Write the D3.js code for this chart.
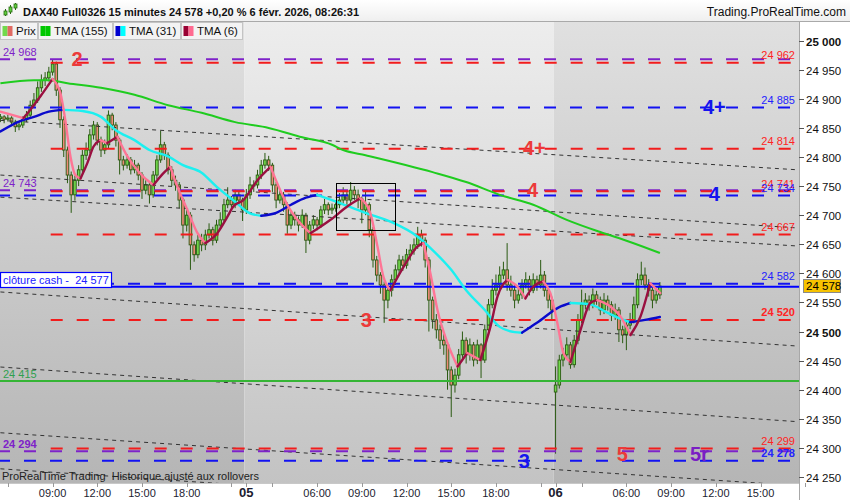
<!DOCTYPE html>
<html><head><meta charset="utf-8">
<script src="https://cdn.jsdelivr.net/npm/d3@7"></script>
<style>
html,body{margin:0;padding:0;background:#fff;}
svg{display:block;font-family:"Liberation Sans",Arial,sans-serif;}
</style>
</head><body>
<svg id="chart" width="850" height="500"></svg>
<script>
// ---------------- DATA ----------------
const titleText = "DAX40 Full0326 15 minutes 24 578 +0,20 % 6 févr. 2026, 08:26:31";
const siteText = "Trading.ProRealTime.com";
const footText = "ProRealTime Trading  Historique ajusté aux rollovers";
const legendNames = ["Prix", "TMA (155)", "TMA (31)", "TMA (6)"];

// sessions (15-minute bars)
const sessionDays = [4, 5, 6];
const sessionStarts = ["05:30", "01:15", "01:15"];
const sessionBarCounts = [66, 83, 29];

const opens = [24866,24869,24865,24867,24860,24852,24855,24864,24872,24889,
24898,24919,24932,24936,24946,24960,24915,24864,24812,24769,
24735,24760,24778,24803,24812,24838,24855,24829,24812,24821,
24872,24855,24829,24795,24786,24795,24778,24786,24769,24743,
24752,24735,24769,24795,24821,24803,24778,24760,24752,24726,
24683,24700,24649,24632,24657,24649,24666,24675,24657,24683,
24692,24718,24726,24718,24735,24726,
24709,24735,24752,24752,24769,24786,24795,24786,24752,24726,
24735,24718,24683,24700,24692,24683,24700,24657,24683,24692,
24683,24709,24718,24709,24712,24718,24726,24735,24726,24743,
24735,24726,24709,24718,24675,24623,24597,24580,24554,24571,
24589,24606,24623,24614,24632,24640,24649,24666,24657,24623,
24554,24520,24503,24485,24477,24434,24408,24425,24460,24485,
24460,24477,24451,24477,24451,24503,24546,24571,24580,24597,
24606,24580,24571,24554,24563,24580,24589,24571,24589,24580,
24597,24571,24554,
24396,24408,24451,24460,24477,24443,24485,24520,24546,24554,
24546,24563,24554,24537,24554,24546,24528,24537,24503,24494,
24511,24520,24546,24589,24597,24580,24571,24554,24563];

const highs = [24874,24872,24873,24870,24864,24861,24870,24879,24897,24910,
24930,24942,24946,24955,24968,24964,24920,24870,24818,24775,
24768,24786,24812,24825,24848,24862,24860,24835,24830,24880,
24876,24860,24833,24802,24805,24800,24795,24790,24774,24760,
24757,24776,24803,24845,24826,24808,24784,24768,24757,24730,
24710,24705,24655,24666,24668,24675,24686,24680,24692,24705,
24728,24748,24733,24744,24740,24730,
24745,24766,24760,24778,24795,24807,24802,24790,24757,24744,
24740,24722,24708,24706,24698,24710,24704,24690,24700,24697,
24716,24728,24722,24720,24726,24738,24748,24742,24757,24750,
24744,24732,24740,24722,24680,24630,24602,24586,24580,24598,
24615,24632,24630,24642,24650,24660,24680,24675,24662,24628,
24560,24530,24512,24496,24482,24440,24436,24470,24500,24490,
24488,24482,24486,24480,24512,24556,24590,24598,24612,24620,
24652,24596,24580,24576,24590,24602,24596,24600,24596,24623,
24604,24578,24560,
24440,24460,24472,24490,24482,24494,24530,24572,24566,24562,
24574,24570,24560,24566,24562,24552,24548,24542,24510,24520,
24532,24560,24600,24620,24610,24590,24576,24574,24585];

const lows = [24860,24858,24861,24853,24843,24846,24850,24860,24868,24884,
24893,24912,24922,24930,24940,24905,24850,24800,24755,24704,
24725,24750,24770,24795,24806,24830,24820,24800,24805,24815,
24846,24818,24770,24777,24780,24770,24772,24760,24728,24736,
24720,24730,24762,24790,24795,24770,24750,24742,24712,24660,
24672,24606,24620,24626,24638,24640,24660,24648,24652,24676,
24688,24712,24708,24712,24716,24690,
24702,24728,24740,24746,24762,24780,24776,24740,24712,24720,
24706,24668,24676,24682,24672,24678,24635,24650,24676,24674,
24678,24702,24700,24702,24706,24712,24720,24716,24720,24726,
24712,24686,24700,24662,24610,24586,24565,24515,24540,24560,
24580,24598,24604,24608,24622,24632,24642,24646,24610,24500,
24505,24488,24470,24460,24400,24353,24395,24418,24452,24445,
24450,24440,24444,24420,24446,24498,24540,24562,24572,24590,
24570,24560,24540,24548,24556,24574,24562,24566,24570,24574,
24560,24540,24520,
24290,24402,24440,24452,24436,24438,24478,24514,24538,24536,
24540,24546,24528,24530,24536,24518,24520,24482,24480,24468,
24504,24514,24540,24580,24572,24560,24540,24548,24556];

const closes = [24869,24865,24867,24860,24852,24855,24864,24872,24889,24898,
24919,24932,24936,24946,24960,24915,24864,24812,24769,24735,
24760,24778,24803,24812,24838,24855,24829,24812,24821,24872,
24855,24829,24795,24786,24795,24778,24786,24769,24743,24752,
24735,24769,24795,24821,24803,24778,24760,24752,24726,24683,
24700,24649,24632,24657,24649,24666,24675,24657,24683,24692,
24718,24726,24718,24735,24726,24709,
24735,24752,24752,24769,24786,24795,24786,24752,24726,24735,
24718,24683,24700,24692,24683,24700,24657,24683,24692,24683,
24709,24718,24709,24712,24718,24726,24735,24726,24743,24735,
24726,24709,24718,24675,24623,24597,24580,24554,24571,24589,
24606,24623,24614,24632,24640,24649,24666,24657,24623,24554,
24520,24503,24485,24477,24434,24408,24425,24460,24485,24460,
24477,24451,24477,24451,24503,24546,24571,24580,24597,24606,
24580,24571,24554,24563,24580,24589,24571,24589,24580,24597,
24571,24554,24537,
24408,24451,24460,24477,24443,24485,24520,24546,24554,24546,
24563,24554,24537,24554,24546,24528,24537,24503,24494,24511,
24520,24546,24589,24597,24580,24571,24554,24563,24578];

// indicator samples (bar index, value)
const tma155Bars = [0,9,13,18,27,36,45,54,63,72,81,89,92,98,116,125,134,143,152,161,169,177];
const tma155Values = [24927,24932,24932,24927,24919,24907,24889,24876,24860,24850,24834,24821,24812,24803,24774,24757,24735,24718,24692,24671,24654,24635];

const tma31Bars = [0,5,9,13,17,22,27,31,36,40,45,49,54,58,63,67,70,74,78,82,85,89,98,105,112,116,121,125,130,134,138,140,144,150,153,158,163,166,169,173,177];
const tma31Values = [24844,24861,24869,24878,24881,24879,24869,24846,24829,24812,24801,24786,24773,24749,24723,24703,24699,24704,24718,24730,24735,24726,24704,24688,24663,24640,24606,24571,24537,24508,24499,24498,24515,24542,24549,24547,24532,24523,24516,24520,24525];

const tma6Bars = [0,6.2,8,10.7,14,16.1,17.4,18.8,20.1,21.5,23.3,25,26.8,28.7,31.4,34.1,35.7,38.4,41.1,43.7,45.6,47.5,50.2,52.9,55,58.2,60.9,62.5,65.2,69,72.5,75.1,77.8,80.5,83.2,85.9,88.6,93.1,96.6,99.3,101.2,102.8,104.7,108.2,111.9,113.5,115.4,117.3,120,122.7,125.3,128.8,131.5,133.4,136.1,138.8,140.9,143,145.7,147.6,149.5,151.1,153,155.7,158.3,160.2,163.7,166.4,169.1,171.8,174.4,177.1];
const tma6Values = [24878,24867,24881,24904,24934,24910,24864,24801,24769,24763,24789,24818,24829,24824,24835,24801,24786,24766,24752,24772,24783,24749,24709,24669,24652,24669,24697,24715,24726,24760,24783,24743,24709,24686,24669,24680,24692,24715,24729,24703,24646,24594,24571,24611,24646,24652,24600,24537,24480,24440,24463,24451,24508,24560,24589,24577,24557,24577,24586,24566,24514,24463,24448,24503,24549,24554,24543,24526,24494,24526,24583,24566];

// horizontal levels
const purpleLevels = [24968, 24743, 24294];
const blueLevels = [24885, 24734, 24582, 24278];
const redLevels = [24962, 24814, 24741, 24667, 24520, 24299];
const cashClose = 24577;
const greenLevel = 24415;
const lastPrice = 24578;
const cashLabel = "clôture cash -  ";

// dotted trend lines: start/end (bar, price)
const trendStartBars = [0,0,0,0,0,0,0];
const trendStartPrices = [24863,24769,24731,24568,24439,24326,24264];
const trendEndBars = [214,214,214,214,214,214,214];
const trendEndPrices = [24778,24678,24647,24475,24345,24235,24172];

// annotations
const annoTexts = ["2","4+","4+","4","4","3","3","5","5r"];
const annoBars = [20.6,191.6,143.3,142.8,191.6,98.2,140.6,166.9,187.6];
const annoPrices = [24969,24886,24815,24743,24737,24520,24277,24289,24289];
const annoKinds = ["red","blue","red","red","blue","red","blue","red","purple"];

// highlighted box (bar range, price range)
const boxBars = [90, 105.8];
const boxPrices = [24756, 24675];

// axes
const yTickValues = [24250,24300,24350,24400,24450,24500,24550,24600,24650,24700,24750,24800,24850,24900,24950,25000];
const xTickLabels = ["09:00","12:00","15:00","18:00","05","06:00","09:00","12:00","15:00","18:00","06","06:00","09:00","12:00","15:00"];
const xTickDays = [4,4,4,4,5,5,5,5,5,5,6,6,6,6,6];
const xTickTimes = ["09:00","12:00","15:00","18:00","01:15","06:00","09:00","12:00","15:00","18:00","01:15","06:00","09:00","12:00","15:00"];
const minorTickDays = [4,4,5,5,6,6];
const minorTickTimes = ["06:00","21:00","03:00","21:00","03:00","18:00"];

// ---------------- LAYOUT / STYLE ----------------
const W = 850, H = 500;
const plotL = 0, plotR = 799, plotT = 22, plotB = 483;
const COL = {
  purple: "#7e22c9", blue: "#1212f2", red: "#f21c1c",
  redText: "#ff2424", blueText: "#2323ff",
  annRed: "#ec3a3a", annBlue: "#1414ee", annPurple: "#7a1ec4",
  green: "#35b535", tma155: "#1fcc1f",
  tma31Up: "#0a0acc", tma31Down: "#1cf0f0",
  tma6Up: "#9a1040", tma6Down: "#ff7595",
  upFill: "#72d94c", downFill: "#ee8a78", candleLine: "#2a5a12"
};
const boldLabels = new Set([24520, 24278, 24294]);

const fr = d3.formatLocale({decimal: ",", thousands: " ", grouping: [3], currency: ["", ""]});
const fmt = fr.format(",d");

const x = d3.scaleLinear().domain([0, 214]).range([0.4, 0.4 + 214 * 3.726]);
const y = d3.scaleLinear().domain([24239.6, 25032.1]).range([plotB, plotT]);

function toMin(t) { const p = t.split(":"); return +p[0] * 60 + +p[1]; }
const sessionStartIndex = {};
{ let acc = 0; sessionDays.forEach((d, k) => { sessionStartIndex[d] = acc; acc += sessionBarCounts[k]; }); }
function barIndex(day, time) {
  const k = sessionDays.indexOf(day);
  return sessionStartIndex[day] + (toMin(time) - toMin(sessionStarts[k])) / 15;
}

const svg = d3.select("#chart");
const defs = svg.append("defs");
function grad(id, c0, c1) {
  const g = defs.append("linearGradient").attr("id", id).attr("x1", 0).attr("y1", 0).attr("x2", 0).attr("y2", 1);
  g.append("stop").attr("offset", "0%").attr("stop-color", c0);
  g.append("stop").attr("offset", "100%").attr("stop-color", c1);
}
grad("gDark", "#e0e0e0", "#b5b5b5");
grad("gLight", "#ededed", "#c3c3c3");
grad("gHead", "#ffffff", "#efefef");
defs.append("clipPath").attr("id", "clip").append("rect")
  .attr("x", plotL).attr("y", plotT).attr("width", plotR - plotL).attr("height", plotB - plotT);

svg.append("rect").attr("width", W).attr("height", H).attr("fill", "#fff");

// plot background: day shading
const plot = svg.append("g").attr("clip-path", "url(#clip)");
const dayEdges = [0, sessionStartIndex[5] - 0.5, sessionStartIndex[6] - 0.5, 214];
const dayFills = ["url(#gDark)", "url(#gLight)", "url(#gDark)"];
dayFills.forEach((f, k) => {
  const x0 = k === 0 ? plotL : x(dayEdges[k]);
  const x1 = k === 2 ? plotR : x(dayEdges[k + 1]);
  plot.append("rect").attr("x", x0).attr("y", plotT).attr("width", x1 - x0).attr("height", plotB - plotT).attr("fill", f);
});

// candles
const bars = closes.map((c, i) => ({i, o: opens[i], h: highs[i], l: lows[i], c}));
const cg = plot.append("g");
cg.selectAll("line.wick").data(bars).join("line")
  .attr("x1", d => x(d.i)).attr("x2", d => x(d.i))
  .attr("y1", d => y(d.h)).attr("y2", d => y(d.l))
  .attr("stroke", COL.candleLine).attr("stroke-width", 1);
cg.selectAll("rect.body").data(bars).join("rect")
  .attr("x", d => x(d.i) - 1.3).attr("width", 2.6)
  .attr("y", d => y(Math.max(d.o, d.c)))
  .attr("height", d => Math.max(1, Math.abs(y(d.o) - y(d.c))))
  .attr("fill", d => d.c >= d.o ? COL.upFill : COL.downFill)
  .attr("stroke", COL.candleLine).attr("stroke-width", 0.9);

// dotted trend lines
trendStartBars.forEach((b, k) => {
  plot.append("line")
    .attr("x1", x(b)).attr("y1", y(trendStartPrices[k]))
    .attr("x2", x(trendEndBars[k])).attr("y2", y(trendEndPrices[k]))
    .attr("stroke", "#333").attr("stroke-width", 1).attr("stroke-dasharray", "4,4");
});

// horizontal dashed levels
function dashed(v, color, x0, off) {
  plot.append("line").attr("x1", x0).attr("x2", plotR)
    .attr("y1", y(v)).attr("y2", y(v))
    .attr("stroke", color).attr("stroke-width", 2)
    .attr("stroke-dasharray", "12,14").attr("stroke-dashoffset", off);
}
purpleLevels.forEach(v => dashed(v, COL.purple, 0, 2));
blueLevels.forEach(v => dashed(v, COL.blue, 0, 2));
redLevels.forEach(v => dashed(v, COL.red, x(13.5), 0));
// solid lines
plot.append("line").attr("x1", plotL).attr("x2", plotR).attr("y1", y(greenLevel)).attr("y2", y(greenLevel))
  .attr("stroke", COL.green).attr("stroke-width", 2);
plot.append("line").attr("x1", plotL).attr("x2", plotR).attr("y1", y(cashClose)).attr("y2", y(cashClose))
  .attr("stroke", "#0000ff").attr("stroke-width", 2);

// indicators
const lineGen = d3.line().x(d => x(d[0])).y(d => y(d[1])).curve(d3.curveMonotoneX);
function colored(barsArr, vals, up, down, w) {
  let run = [[barsArr[0], vals[0]]], dir = vals[1] >= vals[0];
  for (let k = 1; k < barsArr.length; k++) {
    const d = vals[k] >= vals[k - 1];
    if (k > 1 && d !== dir) {
      plot.append("path").attr("d", lineGen(run)).attr("fill", "none")
        .attr("stroke", dir ? up : down).attr("stroke-width", w).attr("stroke-linecap", "round");
      run = [run[run.length - 1]];
      dir = d;
    }
    run.push([barsArr[k], vals[k]]);
  }
  plot.append("path").attr("d", lineGen(run)).attr("fill", "none")
    .attr("stroke", dir ? up : down).attr("stroke-width", w).attr("stroke-linecap", "round");
}
plot.append("path").attr("d", lineGen(tma155Bars.map((b, k) => [b, tma155Values[k]])))
  .attr("fill", "none").attr("stroke", COL.tma155).attr("stroke-width", 2);
colored(tma31Bars, tma31Values, COL.tma31Up, COL.tma31Down, 2.4);
colored(tma6Bars, tma6Values, COL.tma6Up, COL.tma6Down, 2.4);

// highlight box
plot.append("rect")
  .attr("x", Math.round(x(boxBars[0])) + 0.5).attr("y", Math.round(y(boxPrices[0])) + 0.5)
  .attr("width", Math.round(x(boxBars[1]) - x(boxBars[0])))
  .attr("height", Math.round(y(boxPrices[1]) - y(boxPrices[0])))
  .attr("fill", "none").attr("stroke", "#000").attr("stroke-width", 1);

// right-side level labels
function rightLabel(v, color) {
  svg.append("text").attr("x", 795).attr("y", y(v) - 3.5).attr("text-anchor", "end")
    .attr("font-size", 11).attr("font-weight", boldLabels.has(v) ? "bold" : "normal")
    .attr("fill", color).text(fmt(v));
}
redLevels.forEach(v => rightLabel(v, COL.redText));
blueLevels.forEach(v => rightLabel(v, COL.blueText));
// left labels
function leftLabel(v, color) {
  svg.append("text").attr("x", 3).attr("y", y(v) - 3).attr("font-size", 11)
    .attr("font-weight", boldLabels.has(v) ? "bold" : "normal").attr("fill", color).text(fmt(v));
}
purpleLevels.forEach(v => leftLabel(v, COL.purple));
leftLabel(greenLevel, "#2f9f4f");

// cash box
{
  const yy = y(cashClose);
  svg.append("rect").attr("x", 0.5).attr("y", Math.round(yy) - 14.5).attr("width", 111).attr("height", 15)
    .attr("fill", "#fff").attr("stroke", "#0000ff").attr("stroke-width", 1.2);
  svg.append("text").attr("x", 3).attr("y", Math.round(yy) - 3).attr("font-size", 11)
    .attr("fill", "#2020ff").attr("xml:space", "preserve").style("white-space", "pre")
    .text(cashLabel + fmt(cashClose));
}

// annotations
const annoColor = {red: COL.annRed, blue: COL.annBlue, purple: COL.annPurple};
annoTexts.forEach((t, k) => {
  svg.append("text").attr("x", x(annoBars[k])).attr("y", y(annoPrices[k])).attr("dy", "0.36em")
    .attr("text-anchor", "middle").attr("font-size", 20).attr("font-weight", "bold")
    .attr("fill", annoColor[annoKinds[k]]).text(t);
});

// footer text on plot
svg.append("text").attr("x", 2).attr("y", 480).attr("font-size", 11).attr("fill", "#222")
  .attr("xml:space", "preserve").style("white-space", "pre").text(footText);

// ---------------- AXES ----------------
svg.append("line").attr("x1", plotR + 0.5).attr("x2", plotR + 0.5).attr("y1", plotT).attr("y2", H)
  .attr("stroke", "#a8a8a8");
svg.append("line").attr("x1", 0).attr("x2", plotR).attr("y1", plotB + 0.5).attr("y2", plotB + 0.5)
  .attr("stroke", "#c8c8c8");

const yAxis = svg.append("g");
yTickValues.forEach(v => {
  const yy = Math.round(y(v)) + 0.5;
  yAxis.append("line").attr("x1", plotR).attr("x2", plotR + 5).attr("y1", yy).attr("y2", yy).attr("stroke", "#555");
  yAxis.append("text").attr("x", 806).attr("y", yy + 4).attr("font-size", 11.5)
    .attr("font-weight", v % 500 === 0 ? "bold" : "normal").attr("fill", "#111").text(fmt(v));
});
// last price tag
{
  const yy = Math.round(y(lastPrice));
  yAxis.append("rect").attr("x", 803.5).attr("y", yy - 6.5).attr("width", 37).attr("height", 13)
    .attr("fill", "#f6c200").attr("stroke", "#8a8a8a");
  yAxis.append("text").attr("x", 806).attr("y", yy + 4).attr("font-size", 11.5).attr("fill", "#000").text(fmt(lastPrice));
}

const xAxis = svg.append("g");
minorTickDays.forEach((d, k) => {
  const xx = Math.round(x(barIndex(d, minorTickTimes[k]))) + 0.5;
  xAxis.append("line").attr("x1", xx).attr("x2", xx).attr("y1", plotB).attr("y2", plotB + 4).attr("stroke", "#999");
});
xTickLabels.forEach((lab, k) => {
  const xx = x(barIndex(xTickDays[k], xTickTimes[k]));
  const isDay = lab.indexOf(":") < 0;
  xAxis.append("line").attr("x1", Math.round(xx) + 0.5).attr("x2", Math.round(xx) + 0.5)
    .attr("y1", plotB).attr("y2", plotB + 4).attr("stroke", "#999");
  xAxis.append("text").attr("x", xx).attr("y", 497).attr("text-anchor", "middle")
    .attr("font-size", isDay ? 13 : 11).attr("font-weight", isDay ? "bold" : "normal")
    .attr("fill", "#1c1c30").text(lab);
});

// ---------------- HEADER ----------------
svg.append("rect").attr("x", 0).attr("y", 0).attr("width", W).attr("height", 21).attr("fill", "url(#gHead)");
svg.append("line").attr("x1", 0).attr("x2", W).attr("y1", 21.5).attr("y2", 21.5).attr("stroke", "#a9a9a9");
// icon
[[5, 9, 16, 11, 15], [10, 5, 14, 7, 12], [15, 3, 10, 4, 8]].forEach(c => {
  svg.append("line").attr("x1", c[0] + 0.5).attr("x2", c[0] + 0.5).attr("y1", c[1]).attr("y2", c[2]).attr("stroke", "#2a6a12");
  svg.append("rect").attr("x", c[0] - 1).attr("y", c[3]).attr("width", 3).attr("height", c[4] - c[3])
    .attr("fill", "#5fcf3f").attr("stroke", "#2a6a12").attr("stroke-width", 0.8);
});
svg.append("text").attr("x", 23).attr("y", 15.5).attr("font-size", 11).attr("font-weight", "bold")
  .attr("fill", "#111").text(titleText);
svg.append("text").attr("x", 846).attr("y", 15.5).attr("text-anchor", "end").attr("font-size", 12)
  .attr("fill", "#111").text(siteText);

// legend
const legX = [0, 38, 113, 181], legW = [37, 74, 67, 61];
const legSw = [[COL.upFill, "#e06a62"], ["#00c800", "#00c800"], ["#0000d0", "#00ffff"], ["#990033", "#ff6b90"]];
legendNames.forEach((n, k) => {
  svg.append("rect").attr("x", legX[k] + 0.5).attr("y", 22.5).attr("width", legW[k]).attr("height", 17)
    .attr("fill", "#f3f3f3").attr("stroke", "#c4c4c4");
  svg.append("rect").attr("x", legX[k] + 2.5).attr("y", 26).attr("width", 5).attr("height", 10).attr("fill", legSw[k][0]);
  svg.append("rect").attr("x", legX[k] + 7.5).attr("y", 26).attr("width", 5).attr("height", 10).attr("fill", legSw[k][1]);
  svg.append("text").attr("x", legX[k] + 16).attr("y", 35).attr("font-size", 11.5).attr("fill", "#111").text(n);
});
</script>
</body></html>
